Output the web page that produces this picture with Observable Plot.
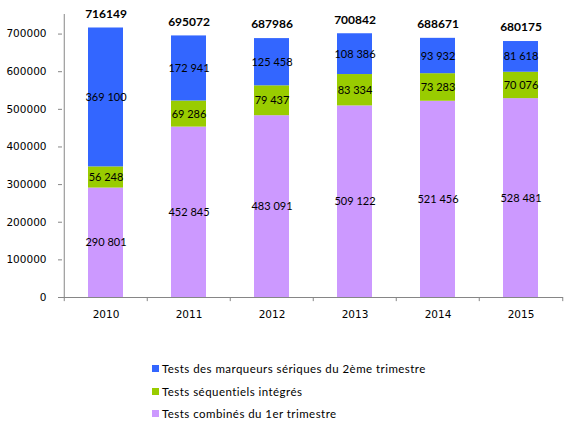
<!DOCTYPE html>
<html><head><meta charset="utf-8">
<script src="https://cdn.jsdelivr.net/npm/d3@7"></script>
<script src="https://cdn.jsdelivr.net/npm/@observablehq/plot@0.6"></script>
<style>
body{margin:0;background:#fff;}
#chart{position:relative;width:578px;height:433px;}
.legend{position:absolute;left:152px;font-family:Lato,"Open Sans",sans-serif;font-size:11.5px;color:#000;display:flex;align-items:center;letter-spacing:0.45px;}
.legend span.sw{display:inline-block;width:7px;height:7px;margin-right:3px;}
</style>
</head><body>
<div id="chart"></div>
<script>
const years = ["2010","2011","2012","2013","2014","2015"];
const combines = [290801, 452845, 483091, 509122, 521456, 528481];
const sequentiels = [56248, 69286, 79437, 83334, 73283, 70076];
const marqueurs = [369100, 172941, 125458, 108386, 93932, 81618];
const seriesNames = ["Tests combinés du 1er trimestre", "Tests séquentiels intégrés", "Tests des marqueurs sériques du 2ème trimestre"];
const seriesColors = ["#CC99FF", "#99CC00", "#3366FF"];
const yTicks = [0, 100000, 200000, 300000, 400000, 500000, 600000, 700000];

const seriesValues = [combines, sequentiels, marqueurs];
const rows = [];
seriesValues.forEach((vals, si) => vals.forEach((v, i) => rows.push({year: years[i], series: seriesNames[si], value: v})));
const totals = years.map((y, i) => ({year: y, total: combines[i] + sequentiels[i] + marqueurs[i]}));
const fmt = v => d3.format(",")(v).replace(/,/g, " ");

const W = 578, H = 330, mL = 62, mR = 15, mT = 14, mB = 33;
const step = (W - mL - mR) / years.length;
const ymax = 752000;

const plot = Plot.plot({
  width: W, height: H,
  marginLeft: mL, marginRight: mR, marginTop: mT, marginBottom: mB,
  style: {fontFamily: "DejaVu Sans, sans-serif", fontSize: "10px", color: "#000", background: "#fff"},
  x: {domain: years, paddingInner: 0.58, paddingOuter: 0.29, label: null},
  y: {domain: [0, ymax], label: null},
  color: {domain: seriesNames, range: seriesColors},
  marks: [
    Plot.barY(rows, Plot.stackY({x: "year", y: "value", fill: "series", order: seriesNames})),
    Plot.text(rows, Plot.stackY({x: "year", y: "value", z: "series", order: seriesNames, text: d => fmt(d.value), fontFamily: "Lato, sans-serif", fontSize: 11, fill: "#000"})),
    Plot.text(totals, {x: "year", y: "total", text: d => String(d.total), dy: -14, fontFamily: "Lato, sans-serif", fontWeight: "bold", fontSize: 12, fill: "#000"}),
    Plot.ruleY([0], {stroke: "#868686"}),
    Plot.ruleX([years[0]], {dx: -step / 2, y1: 0, y2: ymax, stroke: "#868686"}),
    Plot.ruleX(years, {dx: -step / 2, y1: 0, y2: -11000, stroke: "#868686", clip: false}),
    Plot.ruleX([years[years.length - 1]], {dx: step / 2, y1: 0, y2: -11000, stroke: "#868686", clip: false}),
    Plot.axisY({ticks: yTicks, tickFormat: d => String(d), tickSize: 4, tickPadding: 12, stroke: "#868686", fill: "#000", fontSize: 10.5, label: null}),
    Plot.axisX({tickSize: 0, tickPadding: 13, fill: "#000", fontSize: 10.5, label: null})
  ]
});
const chart = document.getElementById("chart");
chart.appendChild(plot);

const legendOrder = [2, 1, 0];
const tops = [362, 385, 407];
legendOrder.forEach((si, k) => {
  const div = document.createElement("div");
  div.className = "legend";
  div.style.top = tops[k] + "px";
  div.innerHTML = `<span class="sw" style="background:${seriesColors[si]}"></span>${seriesNames[si]}`;
  chart.appendChild(div);
});
</script>
</body></html>
